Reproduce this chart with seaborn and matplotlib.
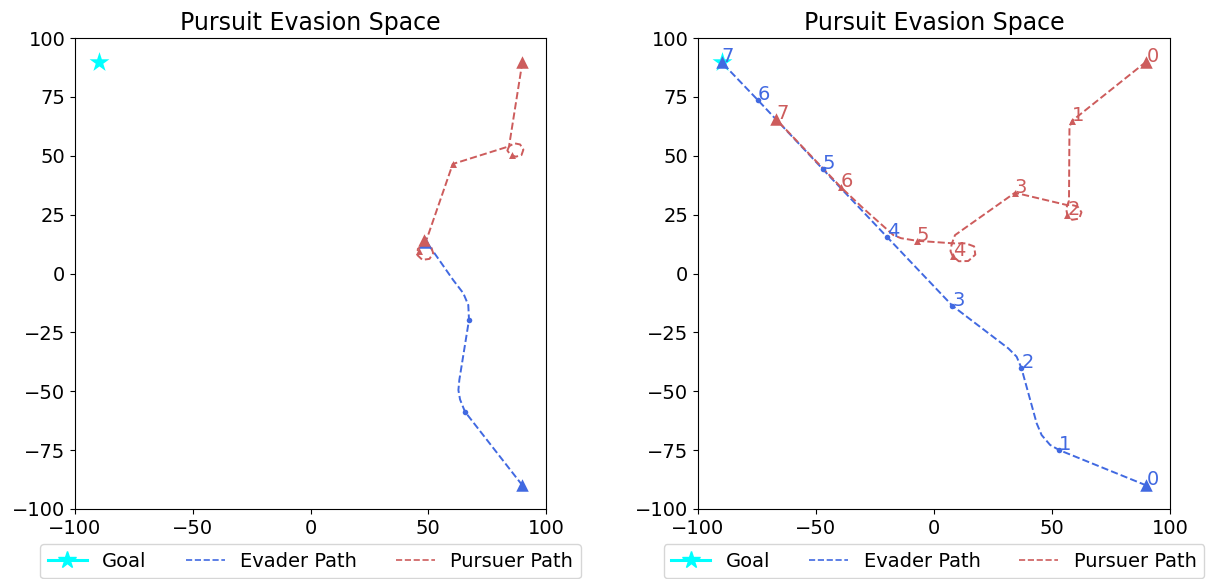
import matplotlib
matplotlib.use("Agg")
import matplotlib.pyplot as plt
from matplotlib.lines import Line2D
import seaborn as sns

# ---------------- data ----------------
goal = (-90, 90)

# Left panel
L_evader_path_x = [90, 65.6, 63.5, 62.8, 63.2, 67.3, 67.0, 64.9, 60.6, 50.7, 48.5]
L_evader_path_y = [-90, -58.7, -53.5, -49.5, -45.2, -19.7, -13.4, -8.4, -2.8, 11.4, 13.5]
L_evader_pts_x = [65.6, 67.3]
L_evader_pts_y = [-58.7, -19.7]
L_evader_ends_x = [90, 48.5]
L_evader_ends_y = [-90, 13.5]

L_pursuer_path_x = [90, 84.3, 86.5, 89.0, 90.4, 89.6, 87.2, 85.0, 83.6, 84.3, 60.4,
                    49.5, 48.0, 45.6, 45.4, 47.5, 50.5, 52.1, 51.2, 48.8, 48.1]
L_pursuer_path_y = [90, 54.0, 55.3, 54.8, 52.6, 50.3, 49.6, 50.3, 52.2, 54.0, 46.5,
                    15.0, 12.1, 10.5, 7.8, 5.8, 6.2, 8.6, 11.4, 12.3, 14.2]
L_pursuer_pts_x = [85.4, 60.4, 46.0]
L_pursuer_pts_y = [50.3, 46.5, 9.7]
L_pursuer_ends_x = [90, 48.1]
L_pursuer_ends_y = [90, 14.2]

# Right panel
R_evader_path_x = [90, 53.1, 49.2, 45.6, 43.5, 37.0, 35.0, 31.5, 7.8, -19.8, -47.2, -74.7, -90.0]
R_evader_path_y = [-90, -75.0, -72.8, -68.6, -63.6, -40.0, -35.3, -31.8, -13.7, 15.4, 44.4, 73.7, 89.7]
R_evader_pts_x = [90, 53.1, 37.0, 7.8, -19.8, -47.2, -74.7, -90.0]
R_evader_pts_y = [-90, -75.0, -40.0, -13.7, 15.4, 44.4, 73.7, 89.7]

R_pursuer_path_x = [90, 58.6, 57.4, 57.2, 56.0, 56.5, 58.5, 61.5, 62.5, 60.8, 57.5, 56.2,
                    34.3, 8.9, 7.5, 7.0, 7.9, 10.5, 14.5, 17.5, 17.0, 13.5, 8.2,
                    -7.3, -14.0, -17.2, -30.0, -39.4, -66.9]
R_pursuer_path_y = [90, 64.9, 62.3, 31.0, 27.5, 24.8, 22.8, 23.3, 26.0, 28.5, 29.3, 29.1,
                    34.3, 16.3, 12.5, 9.5, 7.4, 5.2, 5.3, 8.0, 11.5, 12.8, 12.8,
                    13.9, 15.0, 16.3, 27.7, 36.6, 65.5]
R_pursuer_pts_x = [90, 58.6, 56.5, 34.3, 7.9, -7.3, -39.4, -66.9]
R_pursuer_pts_y = [90, 64.9, 24.8, 34.3, 7.4, 13.9, 36.6, 65.5]

x_ticks = [-100, -50, 0, 50, 100]
y_ticks = [-100, -75, -50, -25, 0, 25, 50, 75, 100]

title = "Pursuit Evasion Space"
legend_labels = ["Goal", "Evader Path", "Pursuer Path"]

EV = "royalblue"
PU = "indianred"
GC = "cyan"

# ---------------- figure ----------------
W, H = 1213, 579
fig = plt.figure(figsize=(W / 100, H / 100), dpi=100)
axL = fig.add_axes([75 / W, (H - 509) / H, 471 / W, 471 / H])
axR = fig.add_axes([698 / W, (H - 509) / H, 472 / W, 471 / H])

LW = 1.4


def path(ax, xs, ys, color):
    sns.lineplot(x=xs, y=ys, sort=False, estimator=None, color=color,
                 linestyle="--", linewidth=LW, ax=ax)


def pts(ax, xs, ys, color, marker, ms):
    sns.scatterplot(x=xs, y=ys, color=color, marker=marker, s=ms ** 2,
                    linewidth=0, ax=ax, zorder=3)


def goal_star(ax):
    sns.scatterplot(x=[goal[0]], y=[goal[1]], color=GC, marker="*", s=15 ** 2,
                    linewidth=0, ax=ax, zorder=2)


# Left
goal_star(axL)
path(axL, L_evader_path_x, L_evader_path_y, EV)
pts(axL, L_evader_pts_x, L_evader_pts_y, EV, "o", 4)
pts(axL, L_evader_ends_x, L_evader_ends_y, EV, "^", 9)
path(axL, L_pursuer_path_x, L_pursuer_path_y, PU)
pts(axL, L_pursuer_pts_x, L_pursuer_pts_y, PU, "^", 5)
pts(axL, L_pursuer_ends_x, L_pursuer_ends_y, PU, "^", 9)

# Right
goal_star(axR)
path(axR, R_evader_path_x, R_evader_path_y, EV)
pts(axR, R_evader_pts_x[1:-1], R_evader_pts_y[1:-1], EV, "o", 4)
pts(axR, [R_evader_pts_x[0], R_evader_pts_x[-1]], [R_evader_pts_y[0], R_evader_pts_y[-1]], EV, "^", 9)
path(axR, R_pursuer_path_x, R_pursuer_path_y, PU)
pts(axR, R_pursuer_pts_x[1:-1], R_pursuer_pts_y[1:-1], PU, "^", 5)
pts(axR, [R_pursuer_pts_x[0], R_pursuer_pts_x[-1]], [R_pursuer_pts_y[0], R_pursuer_pts_y[-1]], PU, "^", 9)
for i, (x, y) in enumerate(zip(R_evader_pts_x, R_evader_pts_y)):
    axR.text(x, y, str(i), color=EV, fontsize=14, zorder=4)
for i, (x, y) in enumerate(zip(R_pursuer_pts_x, R_pursuer_pts_y)):
    axR.text(x, y, str(i), color=PU, fontsize=14, zorder=4)

handles = [
    Line2D([], [], color=GC, marker="*", markersize=13, linewidth=2.2, linestyle="-"),
    Line2D([], [], color=EV, linestyle="--", linewidth=1.2),
    Line2D([], [], color=PU, linestyle="--", linewidth=1.2),
]

for ax in (axL, axR):
    ax.set_xlim(-100, 100)
    ax.set_ylim(-100, 100)
    ax.set_xticks(x_ticks)
    ax.set_yticks(y_ticks)
    ax.tick_params(labelsize=14)
    ax.set_title(title, fontsize=17)
    ax.set_xlabel("")
    ax.set_ylabel("")
    for s in ax.spines.values():
        s.set_visible(True)
    ax.legend(handles, legend_labels, loc="upper center", bbox_to_anchor=(0.5, -0.074),
              ncol=3, fontsize=14, borderaxespad=0, frameon=True)

fig.savefig("out.png", dpi=100)
